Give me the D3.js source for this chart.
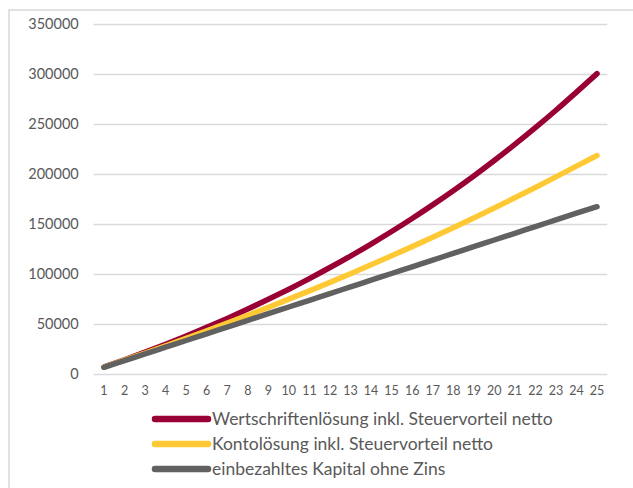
<!DOCTYPE html>
<html>
<head>
<meta charset="utf-8">
<script src="https://cdn.jsdelivr.net/npm/d3@7"></script>
<style>
  body { margin: 0; background: #fff; }
  svg text { font-family: Lato, "Open Sans", sans-serif; fill: #595959; }
</style>
</head>
<body>
<svg id="chart" width="633" height="488"></svg>
<script>
// Jahre 1..25
var years = d3.range(1, 26);
var yTicks = [0, 50000, 100000, 150000, 200000, 250000, 300000, 350000];

// values
var wertschriften = [6985, 14267, 21858, 29772, 38022, 46623, 55589, 64936, 74681, 84840,
    95431, 106472, 117982, 129981, 142490, 155531, 169126, 183299, 198074, 213477,
    229535, 246275, 263726, 281919, 300400];
var konto = [6834, 13805, 20915, 28167, 35564, 43109, 50805, 58655, 66662, 74829,
    83160, 91657, 100324, 109164, 118181, 127379, 136761, 146330, 156091, 166047,
    176202, 186560, 197125, 207902, 218500];
var kapital = [6700, 13400, 20100, 26800, 33500, 40200, 46900, 53600, 60300, 67000,
    73700, 80400, 87100, 93800, 100500, 107200, 113900, 120600, 127300, 134000,
    140700, 147400, 154100, 160800, 167300];

var seriesNames = ["Wertschriftenlösung inkl. Steuervorteil netto",
    "Kontolösung inkl. Steuervorteil netto",
    "einbezahltes Kapital ohne Zins"];
var seriesColors = ["#990035", "#FFC935", "#616161"];
var seriesData = [wertschriften, konto, kapital];

var svg = d3.select("#chart");

// chart frame (only left/top visible in the crop)
svg.append("rect")
    .attr("x", 9).attr("y", 10)
    .attr("width", 700).attr("height", 600)
    .attr("fill", "none")
    .attr("stroke", "#d9d9d9")
    .attr("stroke-width", 1.5);

var x = d3.scaleBand().domain(years).range([93.7, 607.3]);
var y = d3.scaleLinear().domain([0, 350000]).range([374, 24]);

// y axis with gridlines
var yAxis = svg.append("g")
    .attr("transform", "translate(607.3,0)")
    .call(d3.axisLeft(y).tickValues(yTicks)
        .tickSize(607.3 - 93.7)
        .tickPadding(15)
        .tickFormat(d3.format("d")));
yAxis.select(".domain").remove();
yAxis.selectAll(".tick line").attr("stroke", "#d9d9d9").attr("stroke-width", 1.5);
yAxis.selectAll(".tick text").style("font-size", "14.5px").style("fill", "#595959");

// x axis
var xAxis = svg.append("g")
    .attr("transform", "translate(0,380)")
    .call(d3.axisBottom(x).tickSize(0).tickPadding(6));
xAxis.select(".domain").remove();
xAxis.selectAll(".tick text").style("font-size", "12.5px").style("fill", "#595959");

var line = d3.line()
    .x(function(d, i) { return x(years[i]) + x.bandwidth() / 2; })
    .y(function(d) { return y(d); })
    .curve(d3.curveMonotoneX);

// first series drawn first, so the gray one ends on top (like Excel)
seriesData.forEach(function(vals, i) {
    svg.append("path")
        .datum(vals)
        .attr("d", line)
        .attr("fill", "none")
        .attr("stroke", seriesColors[i])
        .attr("stroke-width", 5.5)
        .attr("stroke-linecap", "round")
        .attr("stroke-linejoin", "round");
});

// legend
var legend = svg.append("g");
var legendY = [419, 444, 469];
seriesNames.forEach(function(name, i) {
    legend.append("line")
        .attr("x1", 155).attr("x2", 208)
        .attr("y1", legendY[i]).attr("y2", legendY[i])
        .attr("stroke", seriesColors[i])
        .attr("stroke-width", 6.5)
        .attr("stroke-linecap", "round");
    legend.append("text")
        .attr("x", 212)
        .attr("y", legendY[i])
        .attr("dy", "0.35em")
        .style("font-size", "17.5px")
        .text(name);
});
</script>
</body>
</html>
